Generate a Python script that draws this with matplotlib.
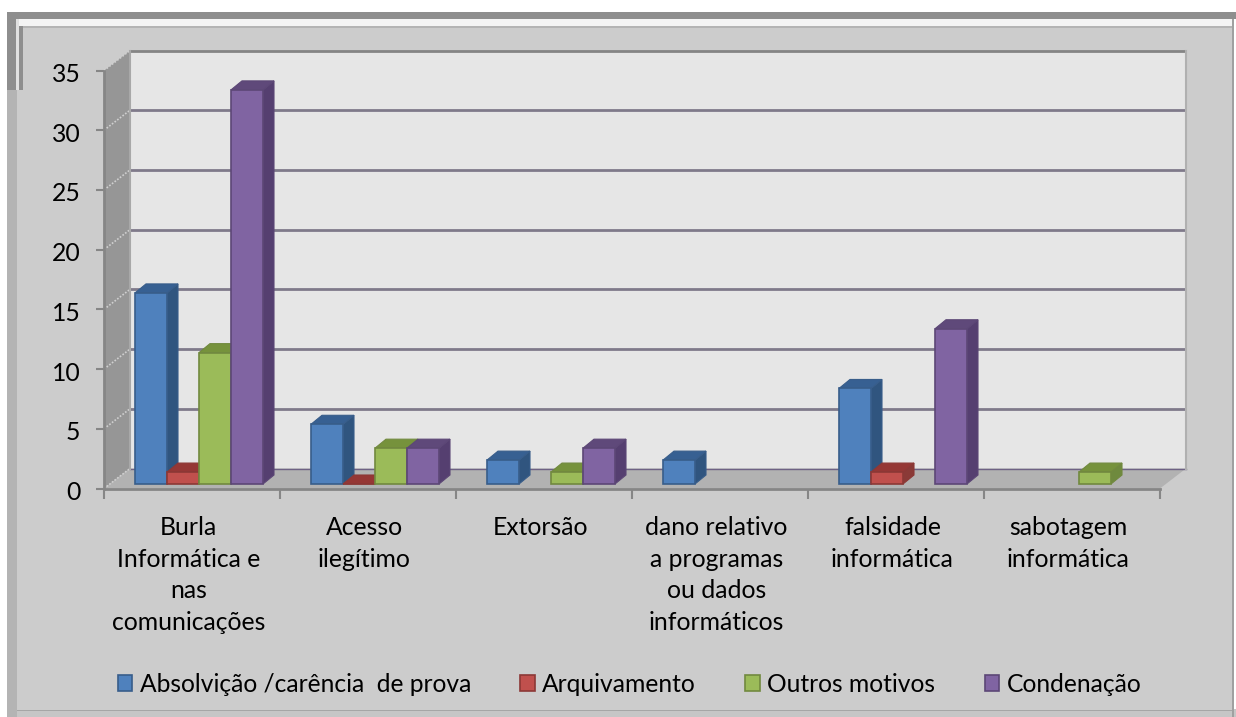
import matplotlib
matplotlib.use("Agg")
import matplotlib.pyplot as plt
from matplotlib.patches import Polygon, Rectangle, Patch
from matplotlib.transforms import ScaledTranslation
import numpy as np

plt.rcParams['font.family'] = ['Lato', 'DejaVu Sans']

# dados
categorias = ["Burla\nInformática e\nnas\ncomunicações", "Acesso\nilegítimo", "Extorsão",
              "dano relativo\na programas\nou dados\ninformáticos", "falsidade\ninformática",
              "sabotagem\ninformática"]
absolvicao = [16, 5, 2, 2, 8, np.nan]
arquivamento = [1, 0, np.nan, np.nan, 1, np.nan]
outros = [11, 3, 1, np.nan, np.nan, 1]
condenacao = [33, 3, 3, np.nan, 13, np.nan]
nomes = ["Absolvição /carência  de prova", "Arquivamento", "Outros motivos", "Condenação"]
series = [absolvicao, arquivamento, outros, condenacao]
y_ticks = [0, 5, 10, 15, 20, 25, 30, 35]

# frente, lado, topo, contorno
cores = [("#4F81BD", "#30557F", "#376092", "#385D8A"),
         ("#C0504D", "#8A3A37", "#953735", "#8C3836"),
         ("#9BBB59", "#6F8A3E", "#76923C", "#71893F"),
         ("#8064A2", "#553F70", "#5F497A", "#5C4776")]

W, H = 1236, 717
fig = plt.figure(figsize=(W / 100, H / 100), dpi=100, facecolor="white")
ax = fig.add_axes([104 / W, 1 - 488.5 / H, 1056 / W, 418 / H])
ax.set_xlim(0, 6)
ax.set_ylim(0, 35)
ax.patch.set_visible(False)

# moldura da imagem
def caixa(x0, y0, x1, y1, cor, z=-5):
    fig.add_artist(Rectangle((x0 / W, 1 - y1 / H), (x1 - x0) / W, (y1 - y0) / H,
                             transform=fig.transFigure, facecolor=cor, edgecolor="none", zorder=z))

caixa(7, 90, 17, H, "#B4B4B4", -9)
caixa(7, 12, W, 19, "#8E8E8E", -9)
caixa(7, 12, 23, 90, "#8E8E8E", -9)
caixa(17, 19, 1232, 26, "#F4F4F4", -8)
caixa(16, 19, 19, 90, "#E0E0E0", -8)
caixa(17, 709, W, H, "#C6C6C6", -9)
caixa(1232, 19, 1234, H, "#A0A0A0", -9)
caixa(23, 26, 1232, 28, "#B4B4B4", -7)
caixa(23, 28, 1232, 710, "#CCCCCC", -6)
caixa(17, 90, 23, 710, "#CCCCCC", -6)
caixa(17, 710, 1232, 711, "#A6A6A6", -6)

# pixels -> unidades dos dados
px = 6 / 1056
py = 35 / 418
fundo_x, fundo_y = 26 * px, 20 * py

def poly(pts, face, edge="none", z=1, lw=0.8):
    ax.add_patch(Polygon(pts, closed=True, facecolor=face, edgecolor=edge, linewidth=lw, zorder=z, clip_on=False))

# paredes e chao
poly([(fundo_x, fundo_y), (6 + fundo_x, fundo_y), (6 + fundo_x, 35 + fundo_y), (fundo_x, 35 + fundo_y)], "#E6E6E6")
poly([(0, 0), (fundo_x, fundo_y), (fundo_x, 35 + fundo_y), (0, 35)], "#969696")
poly([(0, 0), (6, 0), (6 + fundo_x, fundo_y), (fundo_x, fundo_y)], "#B2B2B2")

# grelha na parede do fundo e tracejado na parede lateral
for v in y_ticks:
    if v == 35:
        cor = "#858585"
    else:
        cor = "#7F7A8A"
    if v > 0:
        ax.plot([fundo_x, 6 + fundo_x], [v + fundo_y, v + fundo_y], color=cor, lw=2, zorder=2,
                clip_on=False, solid_capstyle="butt")
    else:
        ax.plot([fundo_x, 6 + fundo_x], [v + fundo_y, v + fundo_y], color="#6E6284", lw=1, zorder=2,
                clip_on=False)
    ax.plot([0, fundo_x], [v, v + fundo_y], color="#D0D0D0", lw=1.2, ls=(0, (1, 1)), zorder=3, clip_on=False)
ax.plot([fundo_x, fundo_x], [fundo_y, 35 + fundo_y], color="#A8A8A8", lw=1.5, zorder=3, clip_on=False)
ax.plot([6 + fundo_x, 6 + fundo_x], [fundo_y, 35 + fundo_y], color="#B0B0B0", lw=1.5, zorder=3, clip_on=False)

# barras 3D
larg = 32 * px
prof_x, prof_y = 11 * px, 9 * py
base = 4.5 * py
inicio = 31 * px
x_cat = np.arange(len(categorias))
for i, (valores, c) in enumerate(zip(series, cores)):
    z = 10 + i
    esq = x_cat + inicio + i * larg
    ax.bar(esq, valores, width=larg, bottom=base, align="edge", color=c[0], edgecolor=c[3], linewidth=1.2, zorder=z + 0.5)
    for xe, v in zip(esq, valores):
        if np.isnan(v):
            continue
        topo = v + base
        poly([(xe + larg, base), (xe + larg + prof_x, base + prof_y), (xe + larg + prof_x, topo + prof_y), (xe + larg, topo)],
             c[1], c[3], z)
        poly([(xe, topo), (xe + prof_x, topo + prof_y), (xe + larg + prof_x, topo + prof_y), (xe + larg, topo)],
             c[2], c[3], z)

# eixos
for lado in ["top", "right"]:
    ax.spines[lado].set_visible(False)
for lado in ["left", "bottom"]:
    ax.spines[lado].set_color("#868686")
    ax.spines[lado].set_linewidth(2)
    ax.spines[lado].set_zorder(30)
ax.set_yticks(y_ticks)
ax.set_xticks(np.arange(len(categorias) + 1))
ax.set_xticklabels([])
ax.set_xticks(x_cat + 0.48, labels=categorias, minor=True)
ax.tick_params(axis="y", length=6, width=1.5, color="#868686", labelsize=17.8, pad=11, labelcolor="black")
ax.tick_params(axis="x", which="major", length=7, width=1.5, color="#868686")
ax.tick_params(axis="x", which="minor", length=0, labelsize=17.8, pad=19.5, labelcolor="black")
for t in ax.get_xticklabels(minor=True):
    t.set_linespacing(1.47)
    t.set_verticalalignment("top")
desce = ScaledTranslation(0, -2 / 100, fig.dpi_scale_trans)
for t in ax.get_yticklabels():
    t.set_transform(t.get_transform() + desce)

# legenda
pegas = [Patch(facecolor=c[0], edgecolor=c[3], linewidth=1.2) for c in cores]
fig.legend(pegas, nomes, ncol=4, loc="center", bbox_to_anchor=(629.5 / W, 1 - 684 / H), frameon=False,
           fontsize=17.7, handlelength=0.6, handleheight=0.6, handletextpad=0.3, columnspacing=2.0)

fig.savefig("out.png", dpi=100)
